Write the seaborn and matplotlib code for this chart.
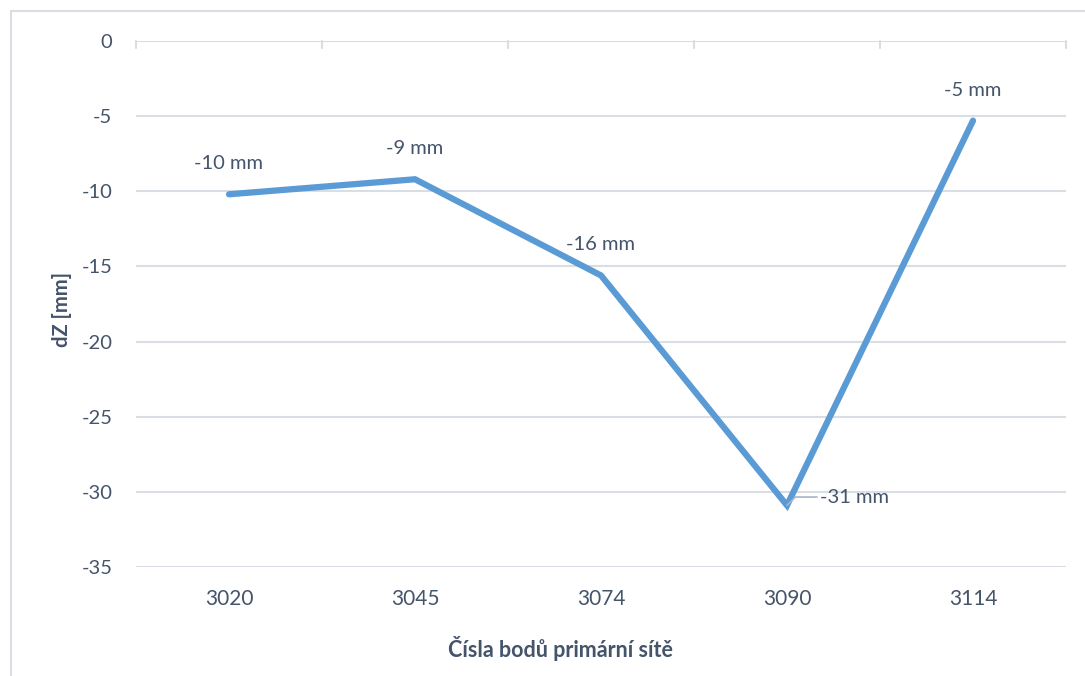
import matplotlib
matplotlib.use("Agg")
import matplotlib.pyplot as plt
import seaborn as sns
import pandas as pd
from matplotlib.patches import Rectangle

# Points of the primary network and their vertical displacement
points = ["3020", "3045", "3074", "3090", "3114"]
dz_mm = [-10.2, -9.2, -15.6, -30.9, -5.3]
value_labels = ["-10 mm", "-9 mm", "-16 mm", "-31 mm", "-5 mm"]
y_ticks = [0, -5, -10, -15, -20, -25, -30, -35]

df = pd.DataFrame({"point": points, "dz": dz_mm})

sns.set_theme(style="white")
plt.rcParams["font.family"] = ["Lato", "DejaVu Sans"]

text_col = "#44546A"
grid_col = "#D9DEE5"
line_col = "#5B9BD5"

fig = plt.figure(figsize=(10.85, 6.76), dpi=100)
ax = fig.add_axes([136 / 1085, 1 - 567 / 676, 930 / 1085, 526 / 676])

x = list(range(len(points)))
df["x"] = x
sns.lineplot(data=df, x="x", y="dz", ax=ax, color=line_col, linewidth=4.5,
             solid_capstyle="round", solid_joinstyle="miter", sort=False)

ax.set_xlim(-0.5, len(points) - 0.5)
ax.set_ylim(-35, 0)
ax.set_yticks(y_ticks)
ax.set_yticklabels([str(t) for t in y_ticks])
ax.set_xticks(x)
ax.set_xticklabels(points)
ax.tick_params(axis="y", length=0, labelsize=14.5, colors=text_col, pad=17)
ax.tick_params(axis="x", length=0, labelsize=15, colors=text_col, pad=16)

for s in ax.spines.values():
    s.set_visible(False)
ax.yaxis.grid(True, color=grid_col, linewidth=1.5)
ax.set_axisbelow(True)

# Category axis sits at zero (top) with tick marks between categories
ax.axhline(0, color=grid_col, linewidth=1.5, zorder=1)
for b in [i - 0.5 for i in range(len(points) + 1)]:
    ax.plot([b, b], [0, -0.45], color=grid_col, linewidth=1.5, zorder=1,
            clip_on=False)

ax.set_xlabel("Čísla bodů primární sítě", fontsize=15.5, fontweight="bold",
              color=text_col)
ax.xaxis.set_label_coords(0.456, -0.131)
ax.set_ylabel("dZ [mm]", fontsize=14.5, fontweight="bold", color=text_col)
ax.yaxis.set_label_coords(-0.069, 0.49)

# Value labels
for i, (v, lab) in enumerate(zip(dz_mm, value_labels)):
    if i == 3:
        ax.annotate(lab, xy=(i, v), xytext=(24, 6), textcoords="offset points",
                    ha="left", va="center", fontsize=14.5, color=text_col,
                    arrowprops=dict(arrowstyle="-", color="#A6B4C8",
                                    linewidth=1.2, shrinkA=0, shrinkB=0,
                                    connectionstyle="angle,angleA=0,angleB=45,rad=0"))
    else:
        ax.annotate(lab, xy=(i, v), xytext=(0, 22), textcoords="offset points",
                    ha="center", va="center", fontsize=14.5, color=text_col)

# Chart frame
fig.patches.append(Rectangle((11 / 1085, -0.1), 1.2, 1 - 11 / 676 + 0.1,
                             transform=fig.transFigure, fill=False,
                             edgecolor="#D9DEE5", linewidth=1.5))

fig.savefig("out.png", dpi=100, facecolor="white")
